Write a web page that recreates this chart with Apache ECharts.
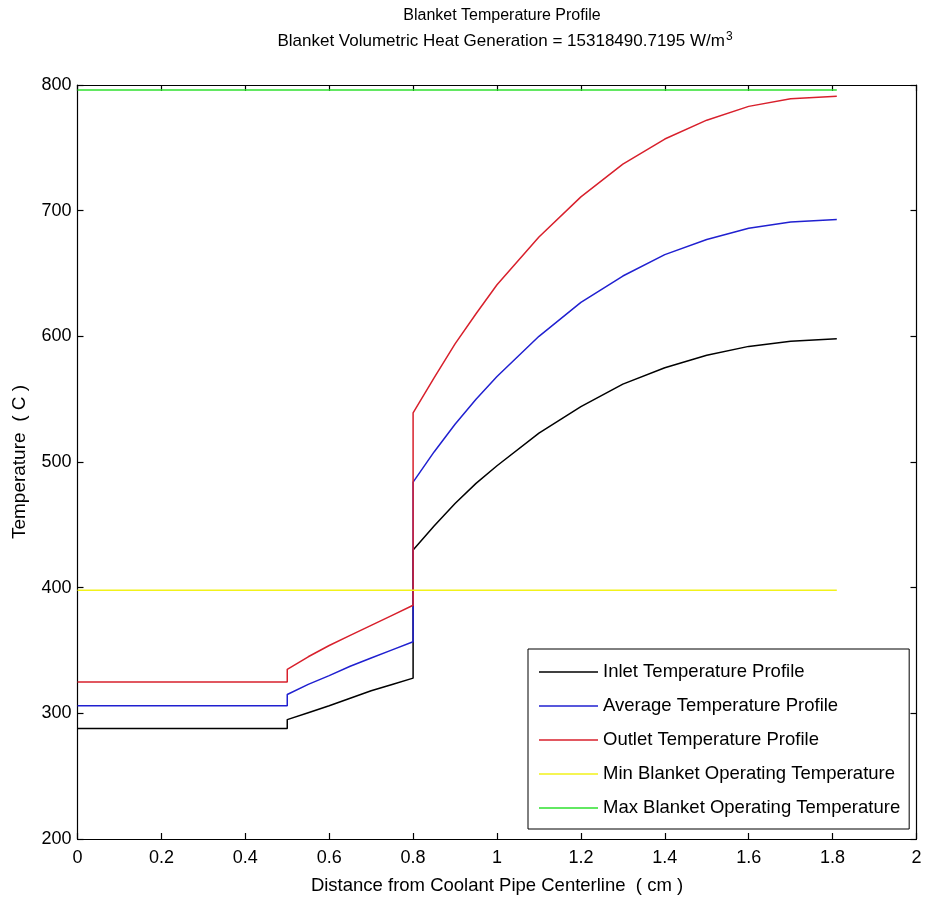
<!DOCTYPE html>
<html>
<head>
<meta charset="utf-8">
<script src="https://cdn.jsdelivr.net/npm/echarts@6/dist/echarts.min.js"></script>
<style>
html,body{margin:0;padding:0;background:#fff;}
#chart{width:925px;height:906px;}
</style>
</head>
<body>
<div id="chart"></div>
<script>
var seriesNames = ['Inlet Temperature Profile','Average Temperature Profile','Outlet Temperature Profile','Min Blanket Operating Temperature','Max Blanket Operating Temperature'];
var distance = [0, 0.5, 0.5, 0.55, 0.6, 0.65, 0.7, 0.75, 0.8, 0.8, 0.85, 0.9, 0.95, 1.0, 1.1, 1.2, 1.3, 1.4, 1.5, 1.6, 1.7, 1.81];
var inletTemp   = [288, 288, 295, 300.5, 306, 312, 318, 323, 328, 430, 449, 467, 483, 497, 523, 544, 562, 575, 585, 592, 596, 598];
var averageTemp = [306, 306, 315, 323, 330, 337.5, 344, 350.5, 357, 484, 508, 530, 550, 568, 600, 627, 648, 665, 677, 686, 691, 693];
var outletTemp  = [325, 325, 335, 345, 354, 362, 370, 378, 386, 539, 567, 594, 618, 641, 679, 711, 737, 757, 772, 783, 789, 791];
var limitDistance = [0, 1.81];
var minOperating = [398, 398];
var maxOperating = [796, 796];
var xTicks = {min: 0, max: 2, interval: 0.2};
var yTicks = {min: 200, max: 800, interval: 100};

function pairs(xs, ys){ return xs.map(function(x,i){ return [x, ys[i]]; }); }

var FONT = '"Liberation Sans", Arial, sans-serif';
var chart = echarts.init(document.getElementById('chart'), null, {renderer:'canvas'});

function lineSeries(name, xs, ys, color){
  return {
    name: name, type: 'line', data: pairs(xs, ys), showSymbol: false, symbol: 'none',
    lineStyle: {color: color, width: 1.5}, itemStyle: {color: color},
    animation: false, xAxisIndex: 0, yAxisIndex: 0
  };
}

var axisCommon = {
  axisLine: {show: true, onZero: false, lineStyle: {color: '#000', width: 1.2}},
  axisTick: {show: true, inside: true, length: 6, lineStyle: {color: '#000', width: 1.2}},
  splitLine: {show: false}
};

var option = {
  backgroundColor: '#fff',
  animation: false,
  title: [
    {text: 'Blanket Temperature Profile', left: 497, top: 3, textAlign: 'center',
     textStyle: {fontFamily: FONT, fontSize: 16, fontWeight: 'normal', color: '#000'}},
    {text: 'Blanket Volumetric Heat Generation = 15318490.7195 W/m{sup|3}', left: 500, top: 26, textAlign: 'center',
     textStyle: {fontFamily: FONT, fontSize: 17, fontWeight: 'normal', color: '#000',
       rich: {sup: {fontFamily: FONT, fontSize: 12, color: '#000', verticalAlign: 'top', padding: [0,0,9,1]}}}}
  ],
  grid: {left: 77.5, right: 8.5, top: 85, bottom: 67, containLabel: false},
  legend: {
    orient: 'vertical', left: 528, top: 649,
    data: seriesNames,
    icon: 'rect', itemWidth: 59, itemHeight: 1.5, itemGap: 14,
    backgroundColor: '#fff', borderColor: '#000', borderWidth: 1, borderRadius: 0,
    padding: [13, 9, 11, 11],
    textStyle: {fontFamily: FONT, fontSize: 18.5, color: '#000', lineHeight: 20},
    selectedMode: false
  },
  xAxis: [
    Object.assign({type: 'value', position: 'bottom', min: xTicks.min, max: xTicks.max, interval: xTicks.interval,
      name: 'Distance from Coolant Pipe Centerline  ( cm )', nameLocation: 'middle', nameGap: 37,
      nameTextStyle: {fontFamily: FONT, fontSize: 18.5, color: '#000'},
      axisLabel: {fontFamily: FONT, fontSize: 18, color: '#000', margin: 10}}, axisCommon),
    Object.assign({type: 'value', position: 'top', min: xTicks.min, max: xTicks.max, interval: xTicks.interval,
      axisLabel: {show: false}}, axisCommon)
  ],
  yAxis: [
    Object.assign({type: 'value', position: 'left', min: yTicks.min, max: yTicks.max, interval: yTicks.interval,
      name: 'Temperature  ( C )', nameLocation: 'middle', nameGap: 48,
      nameTextStyle: {fontFamily: FONT, fontSize: 19, color: '#000'},
      axisLabel: {fontFamily: FONT, fontSize: 18, color: '#000', margin: 6}}, axisCommon),
    Object.assign({type: 'value', position: 'right', min: yTicks.min, max: yTicks.max, interval: yTicks.interval,
      axisLabel: {show: false}}, axisCommon)
  ],
  series: [
    lineSeries(seriesNames[0], distance, inletTemp, '#000000'),
    lineSeries(seriesNames[1], distance, averageTemp, '#2020d0'),
    lineSeries(seriesNames[2], distance, outletTemp, '#d8202c'),
    lineSeries(seriesNames[3], limitDistance, minOperating, '#f2f21a'),
    lineSeries(seriesNames[4], limitDistance, maxOperating, '#2ee02e')
  ]
};
chart.setOption(option);
</script>
</body>
</html>
